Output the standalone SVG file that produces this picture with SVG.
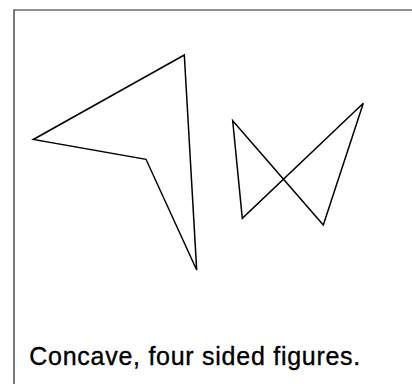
<svg xmlns="http://www.w3.org/2000/svg" width="412" height="384" viewBox="0 0 412 384">
<style>
.fig{fill:none;stroke:#000;stroke-width:1.5;stroke-linejoin:miter}
.frame{fill:none;stroke:#222;stroke-width:1.2}
.cap{font-family:"Liberation Sans",Arial,sans-serif;font-size:25px;fill:#000;stroke:#000;stroke-width:0.35}
</style>
<rect width="412" height="384" fill="#fff"/>
<g id="frame">
<polyline class="frame" points="14,384 14,10 412,10"/>
</g>
<g id="concave-arrowhead">
<polygon class="fig" points="184.3,55 33.3,139.5 146,159.3 196.7,270"/>
</g>
<g id="bowtie">
<polygon class="fig" points="232.7,120.7 323.3,225 363.3,103.3 242.3,218.3"/>
</g>
<g id="caption">
<text class="cap" x="29.3" y="365" textLength="331" lengthAdjust="spacing">Concave, four sided figures.</text>
</g>
</svg>
